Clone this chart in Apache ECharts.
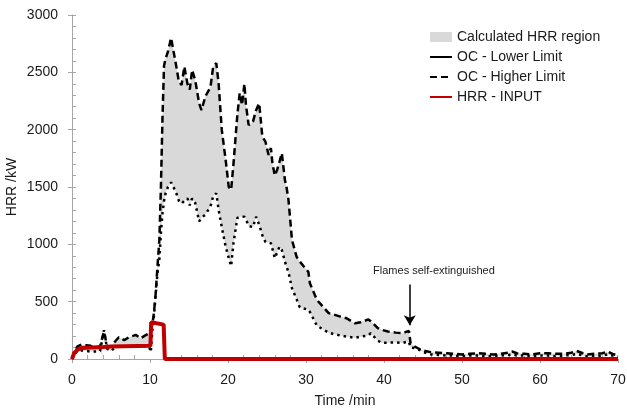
<!DOCTYPE html>
<html>
<head>
<meta charset="utf-8">
<script src="https://cdn.jsdelivr.net/npm/echarts@6/dist/echarts.min.js"></script>
<style>
  html, body { margin: 0; padding: 0; background: #fff; }
  #chart { width: 627px; height: 408px; }
</style>
</head>
<body>
<div id="chart"></div>
<script>
// time (min) shared by both oxygen-consumption limits
var ocTime = [0, 0.3, 0.7, 1.2, 1.8, 2.4, 3.0, 3.6, 4.1, 4.5, 5.0, 5.5, 6.0, 6.7, 7.3, 8.2, 8.8, 9.5, 9.9, 10.1,
  10.3, 10.5, 10.7, 10.95, 11.2, 11.4, 11.6, 11.8, 12.0, 12.3, 12.7, 13.3, 13.7, 14.05, 14.4, 14.8, 15.1, 15.4, 15.8,
  16.3, 16.6, 17.1, 17.75, 18.1, 18.5, 18.8, 19.2, 19.7, 20.1, 20.4, 20.7, 21.2, 21.5, 21.8, 22.1, 22.3, 22.65,
  23.2, 23.6, 24.0, 24.4, 24.8, 25.2, 25.5, 25.7, 26.0, 26.3, 26.6, 26.9, 27.3, 27.5, 27.75, 28.2, 28.8, 29.2,
  30.3, 30.5, 31.4, 32.9, 33.7, 34.4, 35.2, 35.8, 36.3, 37.0, 38.0, 38.3, 39.2, 39.7, 40.5, 41.5, 42.4, 42.9, 43.2,
  43.4, 43.9, 44.6, 45, 46, 47, 48, 49, 50, 51, 52, 53, 54, 55, 56, 56.5, 57, 58, 59, 60, 61, 62, 63, 64, 64.7,
  65.5, 66, 67, 68, 68.7, 69.3, 70];
var ocHigher = [0, 60, 110, 125, 120, 115, 100, 110, 240, 110, 110, 150, 190, 165, 190, 210, 180, 210, 225, 230,
  300, 400, 545, 800, 1040, 1500, 2100, 2560, 2620, 2680, 2800, 2580, 2420, 2390, 2550, 2400, 2350, 2520, 2430,
  2230, 2170, 2290, 2370, 2550, 2580, 2400, 2000, 1735, 1500, 1475, 1700, 2130, 2320, 2215, 2400, 2215, 2040,
  2070, 2170, 2230, 1940, 1895, 1780, 1840, 1705, 1600, 1650, 1720, 1795, 1560, 1500, 1390, 1040, 890, 850,
  760, 660, 515, 400, 385, 370, 355, 330, 311, 320, 345, 330, 270, 255, 240, 230, 224, 238, 245,
  140, 110, 85, 75, 60, 55, 50, 45, 40, 45, 50, 45, 40, 45, 55, 65, 50, 45, 40, 50, 50, 45, 45, 55, 70,
  50, 40, 45, 50, 65, 45, 30];
var ocLower = [0, 40, 70, 75, 70, 65, 65, 70, 250, 90, 70, 100, 110, 110, 110, 110, 110, 110, 105, 60,
  250, 370, 540, 740, 870, 1100, 1270, 1380, 1445, 1500, 1540, 1460, 1380, 1355, 1380, 1400, 1340, 1400, 1360,
  1200, 1230, 1260, 1330, 1420, 1445, 1300, 1150, 980, 880, 810, 1010, 1230, 1240, 1240, 1240, 1220, 1160,
  1150, 1240, 1170, 1080, 1020, 1015, 1010, 960, 880, 930, 980, 950, 850, 805, 760, 617, 520, 450,
  430, 410, 290, 230, 215, 205, 195, 190, 185, 195, 205, 225, 160, 142, 142, 145, 140, 150, 150,
  100, 95, 78, 60, 40, 35, 30, 30, 25, 30, 30, 25, 25, 30, 35, 40, 30, 30, 25, 30, 30, 25, 30, 35, 45,
  30, 25, 25, 30, 40, 30, 20];

// HRR input
var inTime = [0, 0.3, 0.8, 1.2, 2.5, 4.0, 5.0, 10.05, 10.15, 10.4, 11.75, 11.9, 70];
var inHrr = [0, 55, 85, 95, 100, 105, 110, 115, 320, 325, 300, 0, 0];

var arrowFrom = [43.3, 650], arrowTo = [43.3, 295];
var noteAt = [46.4, 770], noteText = 'Flames self-extinguished';

function pairs(t, v) { return t.map(function(x, i) { return [x, v[i]]; }); }
// value first, so the stack works on the y value (x is a value axis too)
function flipped(t, v) { return t.map(function(x, i) { return [v[i], x]; }); }

var font = 'Liberation Sans, Arial, sans-serif';
var ink = '#1a1a1a';
var axisGrey = '#a6a6a6';
var fill = '#d9d9d9';
var red = '#c00000';
var hideSym = { color: 'rgba(0,0,0,0)', borderWidth: 0 };
var plain = function(v) { return String(v); };

// second, bare copy of each axis only to put the minor ticks inside the plot
function innerTicks(pos, max, interval, major) {
  return {
    type: 'value', position: pos, min: 0, max: max, interval: interval,
    axisLine: { show: false }, axisLabel: { show: false }, splitLine: { show: false },
    axisTick: { show: major, inside: true, length: 4, lineStyle: { color: axisGrey } },
    minorTick: { show: true, splitNumber: 5, length: 4, lineStyle: { color: axisGrey } }
  };
}

var chart = echarts.init(document.getElementById('chart'), null, { renderer: 'canvas' });
chart.setOption({
  animation: false,
  textStyle: { fontFamily: font, color: ink },
  grid: { left: 72, right: 9, top: 15, bottom: 49, outerBoundsMode: 'none' },
  legend: {
    orient: 'vertical', left: 429, top: 30, padding: 0, itemGap: 6,
    itemWidth: 22, itemHeight: 10,
    textStyle: { fontSize: 14, color: ink, fontFamily: font },
    data: [
      { name: 'Calculated HRR region', icon: 'rect', itemStyle: { color: fill } },
      { name: 'OC - Lower Limit', lineStyle: { type: 'solid' }, itemStyle: hideSym },
      { name: 'OC - Higher Limit', itemStyle: hideSym },
      { name: 'HRR - INPUT', itemStyle: hideSym }
    ]
  },
  xAxis: [{
    type: 'value', min: 0, max: 70, interval: 10,
    name: 'Time /min', nameLocation: 'middle', nameGap: 35, nameMoveOverlap: false,
    nameTextStyle: { fontSize: 14, color: ink },
    axisLine: { lineStyle: { color: axisGrey } },
    axisTick: { length: 4, lineStyle: { color: axisGrey } },
    axisLabel: { fontSize: 14, color: ink, margin: 14, formatter: plain },
    splitLine: { show: false }
  }, innerTicks('bottom', 70, 10, false)],
  yAxis: [{
    type: 'value', min: 0, max: 3000, interval: 500,
    name: 'HRR /kW', nameLocation: 'middle', nameGap: 53, nameMoveOverlap: false,
    nameTextStyle: { fontSize: 14, color: ink },
    axisLine: { show: true, lineStyle: { color: axisGrey } },
    axisTick: { show: true, length: 4, lineStyle: { color: axisGrey } },
    axisLabel: { fontSize: 14, color: ink, margin: 14, formatter: plain },
    splitLine: { show: false }
  }, innerTicks('left', 3000, 500, true)],
  series: [
    { name: 'base', type: 'line', stack: 'band', symbol: 'none', silent: true,
      encode: { x: 1, y: 0 },
      data: flipped(ocTime, ocLower), lineStyle: { opacity: 0 } },
    { name: 'Calculated HRR region', type: 'line', stack: 'band', symbol: 'none', silent: true,
      encode: { x: 1, y: 0 },
      data: flipped(ocTime, ocHigher.map(function(v, i) { return v - ocLower[i]; })),
      itemStyle: { color: fill }, lineStyle: { opacity: 0 },
      areaStyle: { color: fill, opacity: 1 } },
    { name: 'OC - Lower Limit', type: 'line', symbol: 'none',
      data: pairs(ocTime, ocLower),
      itemStyle: { color: '#000' },
      lineStyle: { color: '#000', width: 2.5, type: [2.5, 4] } },
    { name: 'OC - Higher Limit', type: 'line', symbol: 'none',
      data: pairs(ocTime, ocHigher),
      itemStyle: { color: '#000' },
      lineStyle: { color: '#000', width: 2.5, type: [7, 4] },
      markLine: {
        silent: true, symbol: ['none', 'arrow'], symbolSize: [9, 10],
        lineStyle: { color: '#000', type: 'solid', width: 1.5 },
        label: { show: false },
        data: [[{ coord: arrowFrom }, { coord: arrowTo }]]
      },
      markPoint: {
        silent: true, symbol: 'circle', symbolSize: 0,
        label: { show: true, position: 'inside', formatter: noteText, fontSize: 11, color: ink },
        data: [{ coord: noteAt }]
      } },
    { name: 'HRR - INPUT', type: 'line', symbol: 'none',
      data: pairs(inTime, inHrr),
      itemStyle: { color: red },
      lineStyle: { color: red, width: 4 } }
  ]
});
</script>
</body>
</html>
